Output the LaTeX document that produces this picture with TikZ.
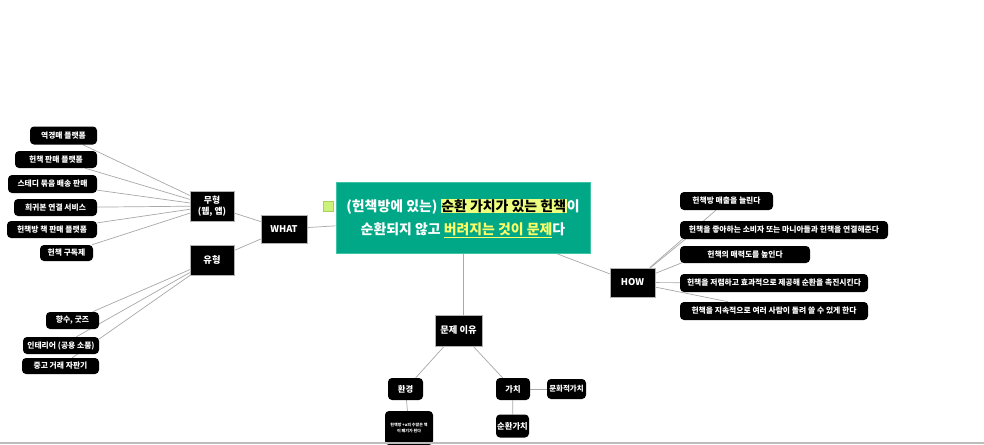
\documentclass[tikz,border=0pt]{standalone}
\usepackage{fontspec}
\setmainfont{Noto Sans CJK KR}
\usetikzlibrary{backgrounds}
\definecolor{cgreen}{HTML}{00A887}
\definecolor{cborder}{HTML}{3FC3A5}
\definecolor{hlyellow}{HTML}{EEFF7E}
\definecolor{ylw}{HTML}{FFFF66}
\definecolor{sqfill}{HTML}{CDF27C}
\definecolor{sqborder}{HTML}{A9CF5F}
\definecolor{linkgray}{HTML}{A8A8A8}
\definecolor{bargray}{HTML}{BDBDBD}
\newcommand\hlx[1]{{\setlength\fboxsep{0.8pt}\colorbox{hlyellow}{\textcolor{black}{#1}}}}
\newcommand\ylx[1]{\textcolor{ylw}{\underline{#1}}}
\begin{document}
\begin{tikzpicture}[x=1pt,y=-1pt,
  box/.style={fill=black, draw=gray!60, line width=0.5pt, text=white,
    font=\bfseries\fontsize{9.3}{11}\selectfont, inner sep=0pt, align=center},
  leaf/.style={fill=black, rounded corners=4pt, text=white,
    font=\bfseries\fontsize{7.8}{9}\selectfont, inner sep=0pt, align=center},
  link/.style={draw=linkgray, line width=0.7pt}]
\useasboundingbox (0,0) rectangle (984,444);

% central topic
\node[fill=cgreen, draw=cborder, line width=0.6pt, minimum width=254, minimum height=71,
  inner sep=0pt, text=white, font=\bfseries\fontsize{13.9}{23}\selectfont, align=center]
  (ctr) at (463,218) {(헌책방에 있는) \hlx{순환 가치가 있는 헌책}이\\ 순환되지 않고 \ylx{버려지는 것이 문제}다};
\node[fill=sqfill, draw=sqborder, line width=0.6pt, minimum size=10, inner sep=0pt] (sq) at (328,206) {};

% WHAT branch
\node[box, minimum width=46, minimum height=28] (what) at (284,229) {WHAT};
\node[box, minimum width=44, minimum height=30, font=\bfseries\fontsize{8.8}{11}\selectfont] (muh) at (212,206) {무형\\(웹, 앱)};
\node[box, minimum width=44, minimum height=30] (yuh) at (212,260) {유형};

\node[leaf, minimum width=67, minimum height=18] (a1) at (63.5,135.5) {역경매 플랫폼};
\node[leaf, minimum width=82, minimum height=17] (a2) at (56,159.5) {헌책 판매 플랫폼};
\node[leaf, minimum width=89, minimum height=18] (a3) at (52.5,184) {스테디 묶음 배송 판매};
\node[leaf, minimum width=83, minimum height=17] (a4) at (55.5,207.5) {희귀본 연결 서비스};
\node[leaf, minimum width=90, minimum height=17] (a5) at (52,229.5) {헌책방 책 판매 플랫폼};
\node[leaf, minimum width=53, minimum height=16] (a6) at (66.5,253) {헌책 구독제};

\node[leaf, minimum width=53, minimum height=17] (b1) at (72.5,320.5) {향수, 굿즈};
\node[leaf, minimum width=76, minimum height=17] (b2) at (61,345.5) {인테리어 (공용 소품)};
\node[leaf, minimum width=77, minimum height=16] (b3) at (60.5,366) {중고 거래 자판기};

% HOW branch
\node[box, minimum width=45, minimum height=29] (how) at (632.5,282.5) {HOW};
\node[leaf, minimum width=93, minimum height=18] (c1) at (726.5,201) {헌책방 매출을 늘린다};
\node[leaf, minimum width=208, minimum height=18] (c2) at (784,230) {헌책을 좋아하는 소비자 또는 마니아들과 헌책을 연결해준다};
\node[leaf, minimum width=130, minimum height=17] (c3) at (745,254.5) {헌책의 매력도를 높인다};
\node[leaf, minimum width=188, minimum height=18] (c4) at (774,283) {헌책을 저렴하고 효과적으로 제공해 순환을 촉진시킨다};
\node[leaf, minimum width=188, minimum height=18] (c5) at (774,311) {헌책을 지속적으로 여러 사람이 돌려 쓸 수 있게 한다};

% problem branch
\node[box, minimum width=47, minimum height=31] (munje) at (458.5,330.5) {문제 이유};
\node[leaf, minimum width=35, minimum height=22, font=\bfseries\fontsize{8.3}{10}\selectfont] (hwan) at (405.5,389) {환경};
\node[leaf, minimum width=34, minimum height=22, font=\bfseries\fontsize{8.3}{10}\selectfont] (gachi) at (513,389) {가치};
\node[leaf, minimum width=39, minimum height=20, font=\bfseries\fontsize{7.5}{9}\selectfont] (munhwa) at (566.5,389) {문화적가치};
\node[leaf, minimum width=33, minimum height=23, font=\bfseries\fontsize{8.3}{10}\selectfont] (sunhwan) at (512.5,426) {순환가치};
\node[leaf, minimum width=48, minimum height=34, font=\bfseries\fontsize{4}{6}\selectfont] (hwantxt) at (409,428) {헌책방 +a의 수많은 책\\이 폐기가 된다};

% bottom bar
\fill[bargray] (0,441.5) rectangle (984,444);

\begin{scope}[on background layer]
  \fill[white] (0,0) rectangle (984,444);
  \draw[link] (what) -- (ctr);
  \draw[link] (what) -- (muh);
  \draw[link] (what) -- (yuh);
  \foreach \n in {a1,a2,a3,a4,a5,a6} \draw[link] (\n) -- (muh);
  \foreach \n in {b1,b2,b3} \draw[link] (\n) -- (yuh);
  \draw[link] (ctr) -- (how);
  \draw[link] (how) -- (c1);
  \draw[link] (how) -- ([xshift=8pt,yshift=2pt]c2.south west);
  \draw[link] (how) -- ([xshift=6pt,yshift=2pt]c3.south west);
  \draw[link] (how) -- (c4);
  \draw[link] (how) -- (c5);
  \draw[link] (ctr.south) -- (ctr.south |- munje.north);
  \draw[link] (munje) -- (hwan);
  \draw[link] (munje) -- (gachi);
  \draw[link] (gachi) -- (munhwa);
  \draw[link] (gachi) -- (sunhwan);
  \draw[link] (hwan) -- (hwantxt);
\end{scope}
\end{tikzpicture}
\end{document}
